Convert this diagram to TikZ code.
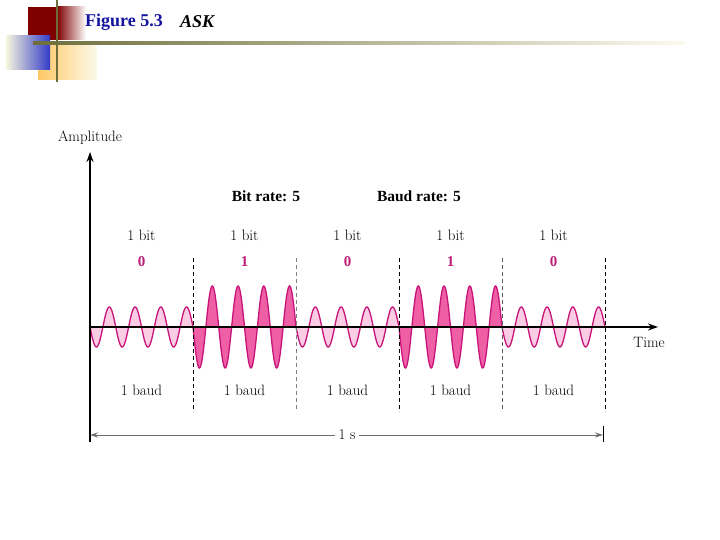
\documentclass[tikz,border=0pt]{standalone}
\usepackage{fontspec}
\usetikzlibrary{arrows.meta}
\newfontfamily\tms{Liberation Serif}
\definecolor{wavec}{RGB}{200,20,120}
\definecolor{lowfill}{RGB}{250,205,228}
\definecolor{highfill}{RGB}{238,95,165}
\definecolor{bitc}{RGB}{190,30,120}
\definecolor{darkredc}{RGB}{128,0,0}
\definecolor{bluec}{RGB}{50,60,200}
\definecolor{paleyel}{RGB}{248,246,222}
\definecolor{orangec}{RGB}{255,200,100}
\definecolor{olivec}{RGB}{110,110,60}
\definecolor{figblue}{RGB}{20,20,160}
\tikzset{
  lbl/.style={inner sep=0pt, font=\fontsize{15}{17}\selectfont},
  boldlbl/.style={inner sep=0pt, font=\tms\bfseries\fontsize{15.5}{18}\selectfont},
  bitlbl/.style={inner sep=0pt, text=bitc, font=\tms\bfseries\fontsize{15}{18}\selectfont},
  axisline/.style={line width=1.2pt, -{Stealth[length=10pt,width=7pt]}},
  divline/.style={line width=1pt, dash pattern=on 4pt off 3pt},
  spanline/.style={line width=1pt, draw=gray!85!black, {Stealth[length=8pt,width=5pt]}-{Stealth[length=8pt,width=5pt]}},
  wavestroke/.style={draw=wavec, line width=1.3pt}
}
\begin{document}
\begin{tikzpicture}[x=1pt,y=-1pt]
\useasboundingbox[fill=white] (0,0) rectangle (720,540);
% header decoration
\fill[darkredc] (28,7) rectangle (57,40);
\shade[left color=darkredc, right color=white] (57,7) rectangle (86,40);
\shade[left color=orangec, right color=paleyel!60!white] (38,43) rectangle (97,80);
\shade[left color=paleyel, right color=bluec] (6,36) rectangle (50,70);
\shade[left color=olivec, right color=paleyel!50!white] (33,41.5) rectangle (685,44.5);
\draw[olivec, line width=2.5pt] (57,0) -- (57,82);
\node[inner sep=0pt, anchor=west, text=figblue, font=\tms\bfseries\fontsize{18}{20}\selectfont] (fig) at (85,22) {Figure 5.3};
\node[inner sep=0pt, anchor=west, font=\tms\bfseries\itshape\fontsize{18}{20}\selectfont] (ask) at (180,22) {ASK};
% waves
\foreach \i/\a/\f in {0/20/lowfill,1/41/highfill,2/20/lowfill,3/41/highfill,4/20/lowfill}{
  \pgfmathsetmacro\xs{90+103*\i}
  \pgfmathsetmacro\xe{193+103*\i}
  \fill[\f] plot[domain=\xs:\xe, samples=160, smooth] (\x,{327+\a*sin((\x-\xs)*13.98058)}) -- (\xe,327) -- (\xs,327) -- cycle;
  \draw[wavestroke] plot[domain=\xs:\xe, samples=160, smooth] (\x,{327+\a*sin((\x-\xs)*13.98058)});
}
% axes
\coordinate (ybot) at (90,442);
\coordinate (ytop) at (90,152);
\coordinate (o) at (90,327);
\coordinate (xend) at (658,327);
\draw[axisline] (ybot) -- (ytop);
\draw[axisline] (o) -- (xend);
\node[lbl] (amp) at (90,138) {Amplitude};
\node[lbl] (time) at (649,342) {Time};
% dividers
\foreach \k/\c in {1/black,2/gray,3/black,4/gray!70!black,5/black}{
  \coordinate (dt\k) at ({90+103*\k},258);
  \coordinate (db\k) at ({90+103*\k},412);
  \draw[divline, draw=\c] (dt\k) -- (db\k);
}
\coordinate (rt) at (603,426);
\coordinate (rb) at (603,442);
\draw[line width=1pt] (rt) -- (rb);
% labels
\node[boldlbl] (bitrate) at (266,196) {Bit rate: 5};
\node[boldlbl] (baudrate) at (419,196) {Baud rate: 5};
\foreach \k/\b in {0/0,1/1,2/0,3/1,4/0}{
  \node[lbl] (bit\k) at ({141.5+103*\k},235) {1 bit};
  \node[bitlbl] (val\k) at ({141.5+103*\k},262) {\b};
  \node[lbl] (baud\k) at ({141.5+103*\k},390) {1 baud};
}
% 1 s span
\coordinate (sl) at (90,435);
\coordinate (sr) at (603,435);
\draw[spanline] (sl) -- (sr);
\node[lbl, fill=white, inner xsep=4pt] (onesec) at (347,435) {1 s};
\end{tikzpicture}
\end{document}
